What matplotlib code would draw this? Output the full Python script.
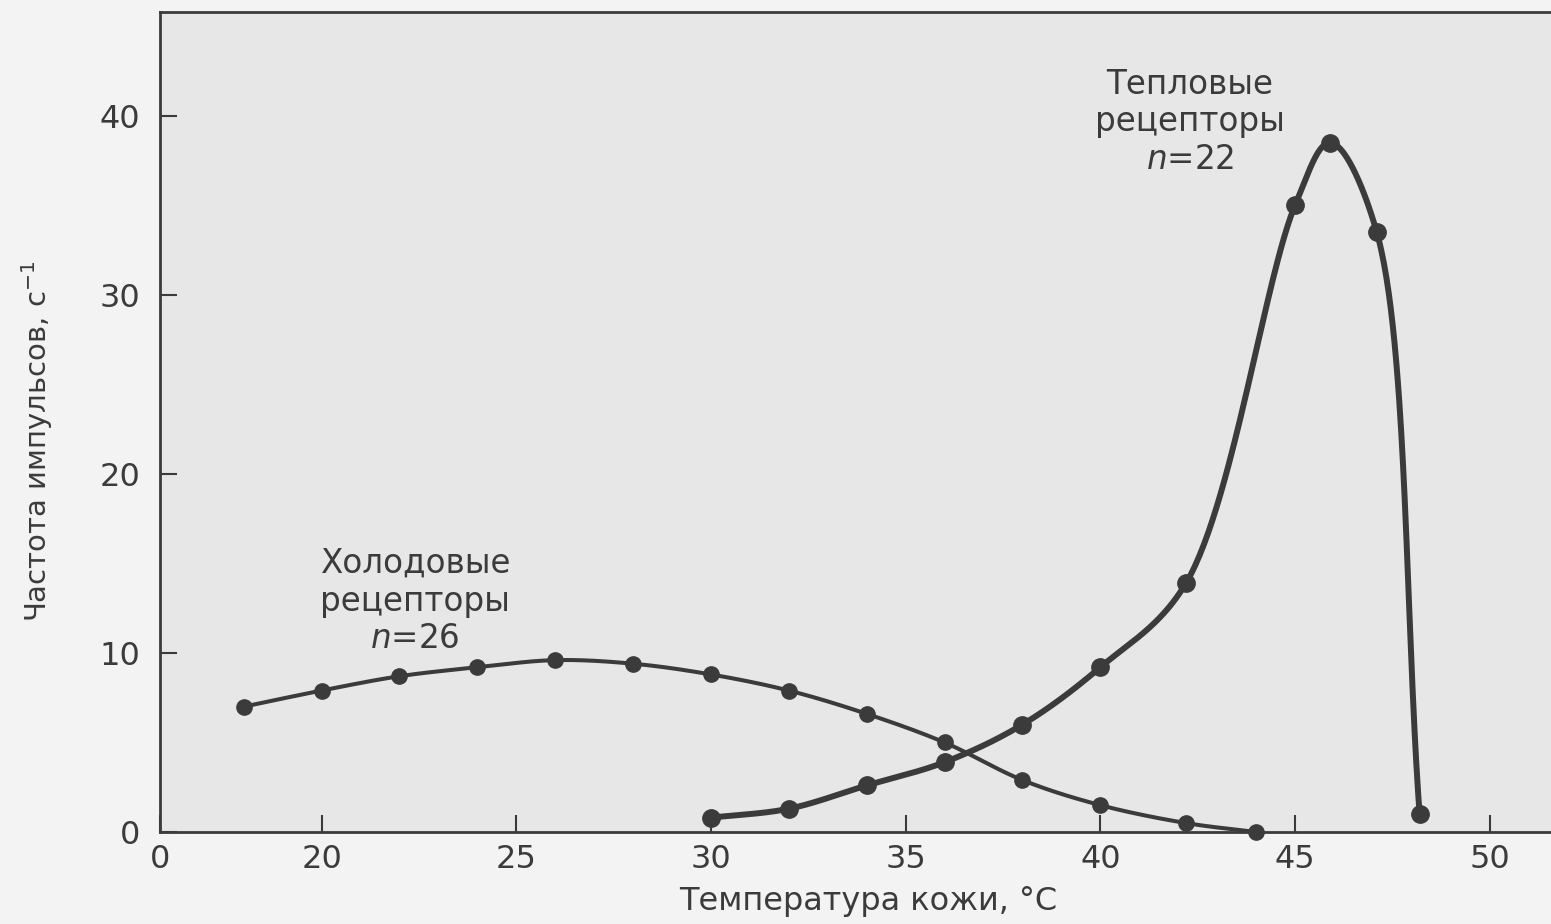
import numpy as np
import matplotlib as mpl
from matplotlib import pyplot as plt

plt.rcParams["font.family"] = ["DejaVu Sans"]
plt.rcParams["mathtext.fontset"] = "dejavusans"

# cold receptors (°C, impulses/s)
cold_t = [18, 20, 22, 24, 26, 28, 30, 32, 34, 36, 38, 40, 42.2, 44]
cold_f = [7.0, 7.9, 8.7, 9.2, 9.6, 9.4, 8.8, 7.9, 6.6, 5.0, 2.9, 1.5, 0.5, 0.0]

# warm receptors
warm_t = [30, 32, 34, 36, 38, 40, 42.2, 45, 45.9, 47.1, 48.2]
warm_f = [0.8, 1.3, 2.6, 3.9, 6.0, 9.2, 13.9, 35.0, 38.5, 33.5, 1.0]

x_ticks = [20, 25, 30, 35, 40, 45, 50]
y_ticks = [0, 10, 20, 30, 40]

ink = "#3b3b3b"


def smooth(xs, ys, sx=39.0, sy=17.9, n=60):
    # centripetal catmull-rom through the points (in roughly screen-scaled units)
    P = np.column_stack([np.asarray(xs, float) * sx, np.asarray(ys, float) * sy])
    P = np.vstack([2 * P[0] - P[1], P, 2 * P[-1] - P[-2]])
    out = []
    for i in range(1, len(P) - 2):
        p0, p1, p2, p3 = P[i - 1], P[i], P[i + 1], P[i + 2]
        t0 = 0.0
        t1 = t0 + np.linalg.norm(p1 - p0) ** 0.5
        t2 = t1 + np.linalg.norm(p2 - p1) ** 0.5
        t3 = t2 + np.linalg.norm(p3 - p2) ** 0.5
        t = np.linspace(t1, t2, n)[:, None]
        a1 = (t1 - t) / (t1 - t0) * p0 + (t - t0) / (t1 - t0) * p1
        a2 = (t2 - t) / (t2 - t1) * p1 + (t - t1) / (t2 - t1) * p2
        a3 = (t3 - t) / (t3 - t2) * p2 + (t - t2) / (t3 - t2) * p3
        b1 = (t2 - t) / (t2 - t0) * a1 + (t - t0) / (t2 - t0) * a2
        b2 = (t3 - t) / (t3 - t1) * a2 + (t - t1) / (t3 - t1) * a3
        c = (t2 - t) / (t2 - t1) * b1 + (t - t1) / (t2 - t1) * b2
        out.append(c)
    out = np.vstack(out)
    return out[:, 0] / sx, out[:, 1] / sy


fig = plt.figure(figsize=(15.51, 9.24), dpi=100, facecolor="#f3f3f3")
ax = fig.add_axes([160 / 1551, 92 / 924, 1406 / 1551, 820 / 924])
ax.set_facecolor("#e7e7e7")

x_left, x_right = 15.85, 51.96
ax.set_xlim(x_left, x_right)
ax.set_ylim(0, 45.8)

cx, cy = smooth(cold_t, cold_f)
ax.plot(cx, cy, color=ink, lw=2.9, zorder=3, clip_on=False)
ax.plot(cold_t, cold_f, "o", color=ink, ms=11, zorder=4, clip_on=False)

wx, wy = smooth(warm_t, warm_f)
ax.plot(wx, wy, color=ink, lw=4.3, zorder=3, clip_on=False, solid_capstyle="round")
ax.plot(warm_t, warm_f, "o", color=ink, ms=12.5, zorder=4, clip_on=False)

ax.text(42.3, 39.66, "Тепловые\nрецепторы\n$n$=22", ha="center", va="center",
        fontsize=23.5, color=ink, linespacing=1.18)
ax.text(22.4, 12.9, "Холодовые\nрецепторы\n$n$=26", ha="center", va="center",
        fontsize=23.5, color=ink, linespacing=1.18)

ax.set_xticks([x_left] + x_ticks)
ax.set_xticklabels(["0"] + [str(v) for v in x_ticks])
ax.set_yticks(y_ticks)
ax.tick_params(axis="both", direction="in", length=12, width=1.5, color=ink,
               labelcolor=ink, labelsize=23)
ax.tick_params(axis="x", pad=9)
ax.tick_params(axis="y", pad=14)

for side in ["left", "bottom", "top"]:
    ax.spines[side].set_color(ink)
    ax.spines[side].set_linewidth(2.0)
ax.spines["right"].set_visible(False)

ax.set_xlabel("Температура кожи, °C", fontsize=23, color=ink)
ax.xaxis.set_label_coords(0.5035, -0.066)
ax.set_ylabel("Частота импульсов, с$^{-1}$", fontsize=21, color=ink)
ax.yaxis.set_label_coords(-0.0745, 0.477)

fig.savefig("out.png", dpi=100, facecolor=fig.get_facecolor())
